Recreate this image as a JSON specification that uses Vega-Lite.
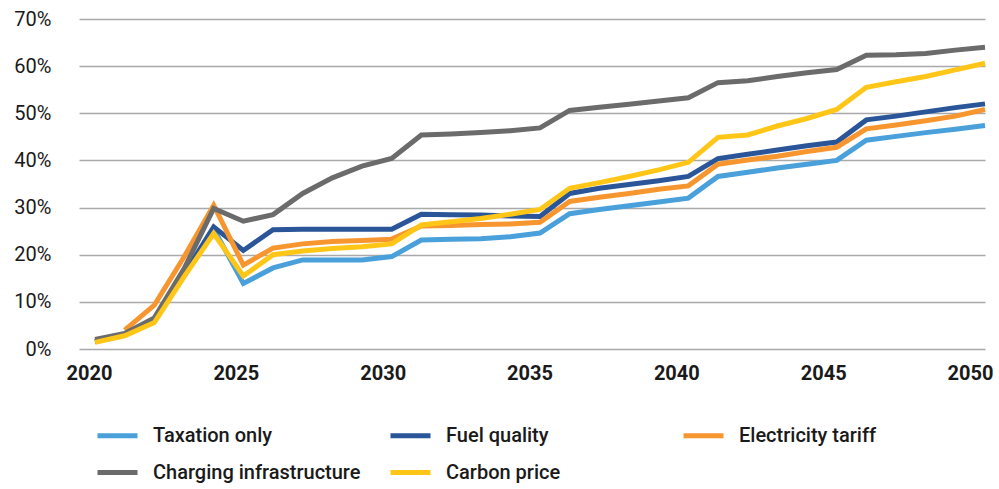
{
  "$schema": "https://vega.github.io/schema/vega-lite/v6.json",
  "width": 906,
  "height": 330,
  "autosize": {"type": "none"},
  "padding": {"left": 79, "top": 19, "right": 14, "bottom": 140},
  "background": "white",
  "config": {
    "view": {"stroke": null},
    "font": "Roboto",
    "axis": {"domain": false, "ticks": false, "labelFont": "Roboto", "labelFontSize": 20, "labelColor": "#1a1a1a"}
  },
  "datasets": {
    "pts": [
      {"year": 2020, "series": "Taxation only", "v": 1.5},
      {"year": 2021, "series": "Taxation only", "v": 3.0},
      {"year": 2022, "series": "Taxation only", "v": 6.2},
      {"year": 2023, "series": "Taxation only", "v": 15.5},
      {"year": 2024, "series": "Taxation only", "v": 25.5},
      {"year": 2025, "series": "Taxation only", "v": 13.9},
      {"year": 2026, "series": "Taxation only", "v": 17.2},
      {"year": 2027, "series": "Taxation only", "v": 18.9},
      {"year": 2028, "series": "Taxation only", "v": 18.9},
      {"year": 2029, "series": "Taxation only", "v": 18.9},
      {"year": 2030, "series": "Taxation only", "v": 19.6},
      {"year": 2031, "series": "Taxation only", "v": 23.1},
      {"year": 2032, "series": "Taxation only", "v": 23.3},
      {"year": 2033, "series": "Taxation only", "v": 23.4},
      {"year": 2034, "series": "Taxation only", "v": 23.8},
      {"year": 2035, "series": "Taxation only", "v": 24.6},
      {"year": 2036, "series": "Taxation only", "v": 28.7},
      {"year": 2037, "series": "Taxation only", "v": 29.6},
      {"year": 2038, "series": "Taxation only", "v": 30.4},
      {"year": 2039, "series": "Taxation only", "v": 31.2},
      {"year": 2040, "series": "Taxation only", "v": 32.0},
      {"year": 2041, "series": "Taxation only", "v": 36.6},
      {"year": 2042, "series": "Taxation only", "v": 37.5},
      {"year": 2043, "series": "Taxation only", "v": 38.4},
      {"year": 2044, "series": "Taxation only", "v": 39.2},
      {"year": 2045, "series": "Taxation only", "v": 40.0},
      {"year": 2046, "series": "Taxation only", "v": 44.3},
      {"year": 2047, "series": "Taxation only", "v": 45.1},
      {"year": 2048, "series": "Taxation only", "v": 45.9},
      {"year": 2049, "series": "Taxation only", "v": 46.6},
      {"year": 2050, "series": "Taxation only", "v": 47.4},
      {"year": 2020, "series": "Fuel quality", "v": 1.6},
      {"year": 2021, "series": "Fuel quality", "v": 3.1},
      {"year": 2022, "series": "Fuel quality", "v": 6.0},
      {"year": 2023, "series": "Fuel quality", "v": 15.8},
      {"year": 2024, "series": "Fuel quality", "v": 25.9},
      {"year": 2025, "series": "Fuel quality", "v": 20.9},
      {"year": 2026, "series": "Fuel quality", "v": 25.3},
      {"year": 2027, "series": "Fuel quality", "v": 25.4},
      {"year": 2028, "series": "Fuel quality", "v": 25.4},
      {"year": 2029, "series": "Fuel quality", "v": 25.4},
      {"year": 2030, "series": "Fuel quality", "v": 25.4},
      {"year": 2031, "series": "Fuel quality", "v": 28.6},
      {"year": 2032, "series": "Fuel quality", "v": 28.5},
      {"year": 2033, "series": "Fuel quality", "v": 28.4},
      {"year": 2034, "series": "Fuel quality", "v": 28.2},
      {"year": 2035, "series": "Fuel quality", "v": 28.1},
      {"year": 2036, "series": "Fuel quality", "v": 33.0},
      {"year": 2037, "series": "Fuel quality", "v": 34.1},
      {"year": 2038, "series": "Fuel quality", "v": 34.9},
      {"year": 2039, "series": "Fuel quality", "v": 35.7},
      {"year": 2040, "series": "Fuel quality", "v": 36.6},
      {"year": 2041, "series": "Fuel quality", "v": 40.4},
      {"year": 2042, "series": "Fuel quality", "v": 41.3},
      {"year": 2043, "series": "Fuel quality", "v": 42.2},
      {"year": 2044, "series": "Fuel quality", "v": 43.1},
      {"year": 2045, "series": "Fuel quality", "v": 43.9},
      {"year": 2046, "series": "Fuel quality", "v": 48.6},
      {"year": 2047, "series": "Fuel quality", "v": 49.4},
      {"year": 2048, "series": "Fuel quality", "v": 50.3},
      {"year": 2049, "series": "Fuel quality", "v": 51.2},
      {"year": 2050, "series": "Fuel quality", "v": 52.0},
      {"year": 2021, "series": "Electricity tariff", "v": 4.0},
      {"year": 2022, "series": "Electricity tariff", "v": 9.3},
      {"year": 2023, "series": "Electricity tariff", "v": 19.5},
      {"year": 2024, "series": "Electricity tariff", "v": 30.5},
      {"year": 2025, "series": "Electricity tariff", "v": 17.8},
      {"year": 2026, "series": "Electricity tariff", "v": 21.4},
      {"year": 2027, "series": "Electricity tariff", "v": 22.3},
      {"year": 2028, "series": "Electricity tariff", "v": 22.8},
      {"year": 2029, "series": "Electricity tariff", "v": 23.0},
      {"year": 2030, "series": "Electricity tariff", "v": 23.3},
      {"year": 2031, "series": "Electricity tariff", "v": 26.1},
      {"year": 2032, "series": "Electricity tariff", "v": 26.2},
      {"year": 2033, "series": "Electricity tariff", "v": 26.4},
      {"year": 2034, "series": "Electricity tariff", "v": 26.5},
      {"year": 2035, "series": "Electricity tariff", "v": 26.9},
      {"year": 2036, "series": "Electricity tariff", "v": 31.3},
      {"year": 2037, "series": "Electricity tariff", "v": 32.2},
      {"year": 2038, "series": "Electricity tariff", "v": 33.0},
      {"year": 2039, "series": "Electricity tariff", "v": 33.9},
      {"year": 2040, "series": "Electricity tariff", "v": 34.6},
      {"year": 2041, "series": "Electricity tariff", "v": 39.2},
      {"year": 2042, "series": "Electricity tariff", "v": 40.1},
      {"year": 2043, "series": "Electricity tariff", "v": 40.9},
      {"year": 2044, "series": "Electricity tariff", "v": 41.9},
      {"year": 2045, "series": "Electricity tariff", "v": 42.8},
      {"year": 2046, "series": "Electricity tariff", "v": 46.7},
      {"year": 2047, "series": "Electricity tariff", "v": 47.5},
      {"year": 2048, "series": "Electricity tariff", "v": 48.4},
      {"year": 2049, "series": "Electricity tariff", "v": 49.4},
      {"year": 2050, "series": "Electricity tariff", "v": 50.8},
      {"year": 2020, "series": "Charging infrastructure", "v": 2.0},
      {"year": 2021, "series": "Charging infrastructure", "v": 3.3},
      {"year": 2022, "series": "Charging infrastructure", "v": 6.6},
      {"year": 2023, "series": "Charging infrastructure", "v": 17.0},
      {"year": 2024, "series": "Charging infrastructure", "v": 29.8},
      {"year": 2025, "series": "Charging infrastructure", "v": 27.1},
      {"year": 2026, "series": "Charging infrastructure", "v": 28.5},
      {"year": 2027, "series": "Charging infrastructure", "v": 33.0},
      {"year": 2028, "series": "Charging infrastructure", "v": 36.3},
      {"year": 2029, "series": "Charging infrastructure", "v": 38.8},
      {"year": 2030, "series": "Charging infrastructure", "v": 40.4},
      {"year": 2031, "series": "Charging infrastructure", "v": 45.4},
      {"year": 2032, "series": "Charging infrastructure", "v": 45.6},
      {"year": 2033, "series": "Charging infrastructure", "v": 45.9},
      {"year": 2034, "series": "Charging infrastructure", "v": 46.3},
      {"year": 2035, "series": "Charging infrastructure", "v": 46.9},
      {"year": 2036, "series": "Charging infrastructure", "v": 50.6},
      {"year": 2037, "series": "Charging infrastructure", "v": 51.3},
      {"year": 2038, "series": "Charging infrastructure", "v": 51.9},
      {"year": 2039, "series": "Charging infrastructure", "v": 52.6},
      {"year": 2040, "series": "Charging infrastructure", "v": 53.3},
      {"year": 2041, "series": "Charging infrastructure", "v": 56.5},
      {"year": 2042, "series": "Charging infrastructure", "v": 56.9},
      {"year": 2043, "series": "Charging infrastructure", "v": 57.8},
      {"year": 2044, "series": "Charging infrastructure", "v": 58.6},
      {"year": 2045, "series": "Charging infrastructure", "v": 59.3},
      {"year": 2046, "series": "Charging infrastructure", "v": 62.3},
      {"year": 2047, "series": "Charging infrastructure", "v": 62.4},
      {"year": 2048, "series": "Charging infrastructure", "v": 62.7},
      {"year": 2049, "series": "Charging infrastructure", "v": 63.4},
      {"year": 2050, "series": "Charging infrastructure", "v": 64.0},
      {"year": 2020, "series": "Carbon price", "v": 1.4},
      {"year": 2021, "series": "Carbon price", "v": 2.8},
      {"year": 2022, "series": "Carbon price", "v": 5.6},
      {"year": 2023, "series": "Carbon price", "v": 15.3},
      {"year": 2024, "series": "Carbon price", "v": 24.5},
      {"year": 2025, "series": "Carbon price", "v": 15.5},
      {"year": 2026, "series": "Carbon price", "v": 20.0},
      {"year": 2027, "series": "Carbon price", "v": 20.8},
      {"year": 2028, "series": "Carbon price", "v": 21.3},
      {"year": 2029, "series": "Carbon price", "v": 21.7},
      {"year": 2030, "series": "Carbon price", "v": 22.3},
      {"year": 2031, "series": "Carbon price", "v": 26.3},
      {"year": 2032, "series": "Carbon price", "v": 27.0},
      {"year": 2033, "series": "Carbon price", "v": 27.7},
      {"year": 2034, "series": "Carbon price", "v": 28.6},
      {"year": 2035, "series": "Carbon price", "v": 29.6},
      {"year": 2036, "series": "Carbon price", "v": 34.1},
      {"year": 2037, "series": "Carbon price", "v": 35.3},
      {"year": 2038, "series": "Carbon price", "v": 36.6},
      {"year": 2039, "series": "Carbon price", "v": 38.0},
      {"year": 2040, "series": "Carbon price", "v": 39.6},
      {"year": 2041, "series": "Carbon price", "v": 44.9},
      {"year": 2042, "series": "Carbon price", "v": 45.4},
      {"year": 2043, "series": "Carbon price", "v": 47.3},
      {"year": 2044, "series": "Carbon price", "v": 48.9},
      {"year": 2045, "series": "Carbon price", "v": 50.8},
      {"year": 2046, "series": "Carbon price", "v": 55.5},
      {"year": 2047, "series": "Carbon price", "v": 56.7},
      {"year": 2048, "series": "Carbon price", "v": 57.8},
      {"year": 2049, "series": "Carbon price", "v": 59.2},
      {"year": 2050, "series": "Carbon price", "v": 60.6}
    ]
  },
  "data": {"name": "pts"},
  "mark": {"type": "line", "strokeWidth": 5, "clip": false},
  "encoding": {
    "x": {
      "field": "year",
      "type": "quantitative",
      "scale": {"domain": [2019.46, 2050], "nice": false, "zero": false},
      "axis": {
        "title": null,
        "values": [2020, 2025, 2030, 2035, 2040, 2045, 2050],
        "format": "d",
        "grid": false,
        "labelFlush": false,
        "labelBound": false,
        "labelOverlap": false,
        "labelFontWeight": "bold",
        "labelPadding": 14,
        "labelOffset": {"expr": "-6 - (datum.value - 2020) * 0.3"}
      }
    },
    "y": {
      "field": "v",
      "type": "quantitative",
      "scale": {"domain": [0, 70], "nice": false},
      "axis": {
        "title": null,
        "values": [0, 10, 20, 30, 40, 50, 60, 70],
        "labelExpr": "datum.value + '%'",
        "grid": true,
        "gridColor": "#a9a9a9",
        "gridWidth": 1.5,
        "labelPadding": 28
      }
    },
    "color": {
      "field": "series",
      "type": "nominal",
      "scale": {
        "domain": ["Taxation only", "Fuel quality", "Electricity tariff", "Charging infrastructure", "Carbon price"],
        "range": ["#4aa0da", "#2a5699", "#f7962f", "#6b6b6b", "#ffc617"]
      },
      "legend": {
        "title": null,
        "orient": "none",
        "legendX": 16,
        "legendY": 394,
        "direction": "horizontal",
        "columns": 3,
        "gridAlign": "all",
        "columnPadding": 19,
        "rowPadding": 4,
        "padding": 0,
        "symbolType": "stroke",
        "symbolSize": 1600,
        "symbolStrokeWidth": 5,
        "labelFont": "Roboto",
        "labelFontSize": 20,
        "labelFontWeight": 500,
        "labelColor": "#1a1a1a",
        "labelOffset": 13,
        "labelLimit": 400
      }
    }
  }
}
